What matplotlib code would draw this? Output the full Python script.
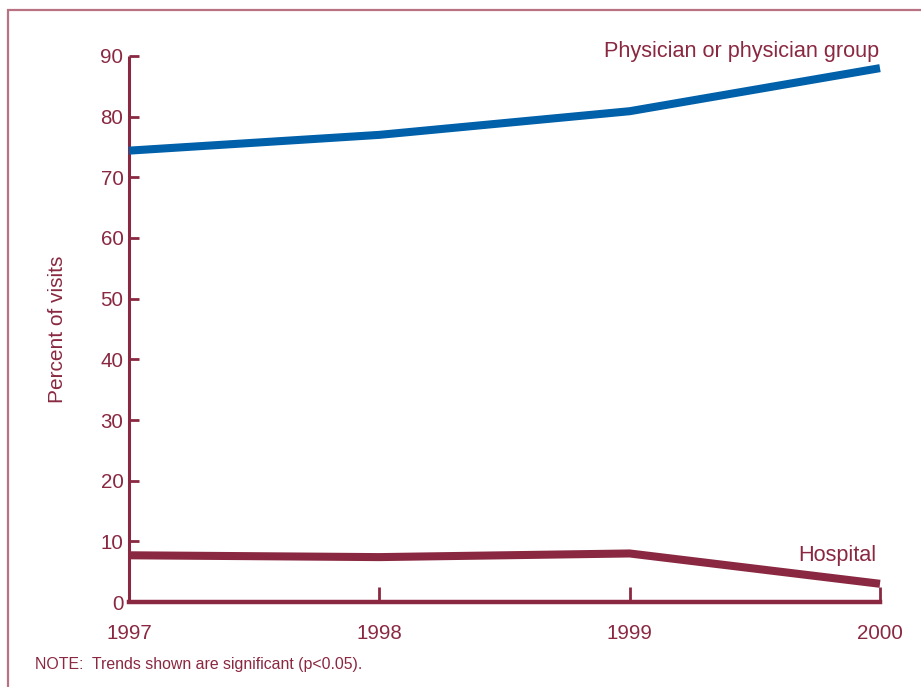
import matplotlib.pyplot as plt
from matplotlib.patches import Rectangle

plt.rcParams['font.family'] = ['Liberation Sans', 'DejaVu Sans']

years = [1997, 1998, 1999, 2000]
physician = [74.4, 77.0, 80.9, 88.0]
hospital = [7.7, 7.4, 8.0, 3.0]
yticks = [0, 10, 20, 30, 40, 50, 60, 70, 80, 90]

maroon = '#8a2841'
blue = '#0060a9'
frame_col = '#b87282'

fig = plt.figure(figsize=(9.21, 6.87), dpi=100, facecolor='white')
ax = fig.add_axes([129 / 921, 85 / 687, 751 / 921, 546 / 687])

# outer frame, only top and left show in the crop
fig.patches.append(Rectangle((8 / 921, -0.1), 1.2, (677 / 687) + 0.1, transform=fig.transFigure,
                             fill=False, edgecolor=frame_col, linewidth=1.6))

ax.plot(years, physician, color=blue, linewidth=5.8, solid_capstyle='butt', clip_on=False, zorder=3)
ax.plot(years, hospital, color=maroon, linewidth=5.8, solid_capstyle='butt', clip_on=False, zorder=3)

ax.set_xlim(1997, 2000)
ax.set_ylim(0, 90)
ax.set_xticks(years)
ax.set_yticks(yticks)

for s in ['top', 'right']:
    ax.spines[s].set_visible(False)
ax.spines['left'].set_color(maroon)
ax.spines['left'].set_linewidth(2.2)
ax.spines['bottom'].set_color(maroon)
ax.spines['bottom'].set_linewidth(3.2)
ax.spines['left'].set_capstyle('butt')

ax.tick_params(axis='y', direction='in', length=7.5, width=2, color=maroon,
               labelcolor=maroon, labelsize=14.8, pad=4)
ax.tick_params(axis='x', direction='in', length=10.5, width=2, color=maroon,
               labelcolor=maroon, labelsize=14.8, pad=16)

ax.set_ylabel('Percent of visits', color=maroon, fontsize=15, labelpad=24)

ax.text(1999.995, 90.8, 'Physician or physician group', color=maroon, fontsize=15.6,
        ha='right', va='center')
ax.text(1999.985, 7.7, 'Hospital', color=maroon, fontsize=15.6, ha='right', va='center')

fig.text(35 / 921, 1 - 665 / 687, 'NOTE:  Trends shown are significant (p<0.05).',
         color=maroon, fontsize=11.4, ha='left', va='center')

fig.savefig('out.png', dpi=100)
